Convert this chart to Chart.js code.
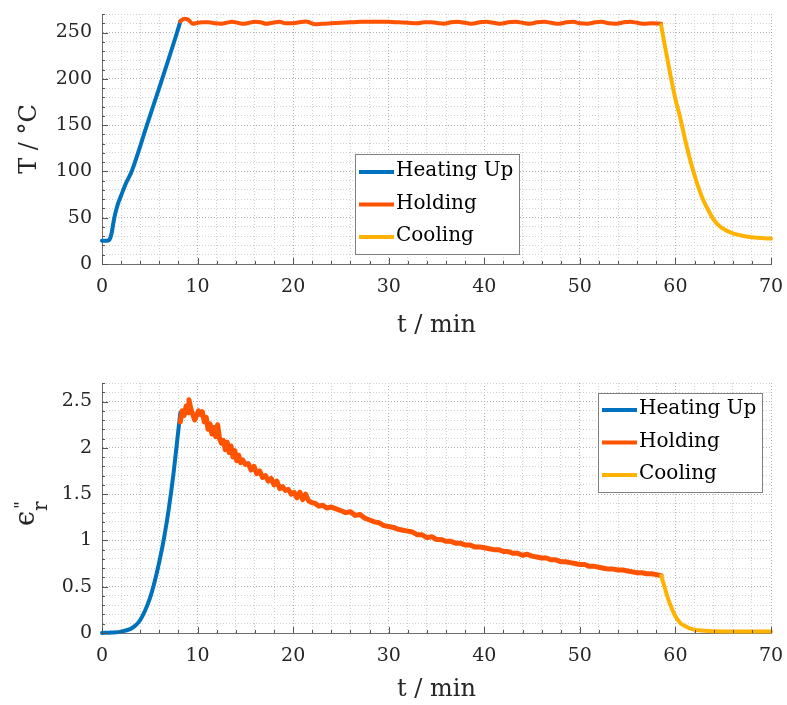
<!DOCTYPE html>
<html>
<head>
<meta charset="utf-8">
<script src="https://cdn.jsdelivr.net/npm/chart.js@4.4.1/dist/chart.umd.min.js"></script>
<style>
  body{margin:0;background:#fff;}
  canvas{display:block;}
</style>
</head>
<body>
<canvas id="chartT" width="787" height="350"></canvas>
<canvas id="chartE" width="787" height="355"></canvas>
<script>
// phases of the run
const phases = ['Heating Up', 'Holding', 'Cooling'];
const phaseColors = ['#0072BD', '#FF5300', '#FFB300'];

// temperature T / °C against time t / min
const heatT_t = [0, 0.5, 0.75, 1.0, 1.2, 1.4, 1.7, 2.0, 2.5, 3.1, 4.7, 6.3, 7.85, 8.2];
const heatT_v = [25, 25, 26, 33, 45, 55, 66, 74, 87, 100, 150, 200, 250, 262];

const holdT_t = [8.2, 8.6, 9.0, 9.5, 10.0, 10.5, 11.2, 11.8, 12.4, 13.0, 13.6, 14.2, 14.8, 15.4, 16.0, 16.6, 17.2, 17.8, 18.6, 19.2,
  19.8, 20.6, 21.3, 21.8, 22.3, 23.0, 24, 25, 26, 27, 28, 29, 30, 31, 32, 33, 33.7, 34.5, 35.2, 35.8,
  36.5, 37.2, 38.0, 38.7, 39.5, 40.2, 41.0, 41.7, 42.5, 43.3, 44.0, 44.8, 45.5, 46.3, 47.0, 47.8, 48.6, 49.3, 50.0, 50.8,
  51.6, 52.3, 53.0, 53.8, 54.6, 55.3, 56.0, 56.8, 57.5, 58.5];
const holdT_v = [262, 265, 264, 259.5, 260.5, 261, 261, 260, 259.5, 260.5, 261.5, 260.5, 259.5, 260.5, 261.5, 261, 259.5, 260.5, 261.5, 260,
  260, 261, 262, 260.5, 259, 259.5, 260, 260.5, 261, 261.5, 261.5, 261.5, 261.5, 261, 260.5, 260, 261, 261, 260, 259.5,
  261, 261.5, 260.5, 259.5, 261, 261.5, 260.5, 259.5, 261, 261.5, 260.5, 259.5, 261, 261.5, 260.5, 259.5, 261, 261.5, 260, 259.5,
  261, 261.5, 260, 259.5, 261, 261.5, 260.5, 259.5, 260, 259.5];

const coolT_t = [58.5, 59, 59.5, 60, 60.5, 61, 61.5, 62, 62.5, 63, 63.5, 64, 64.5, 65, 66, 67, 68, 69, 70];
const coolT_v = [258, 230, 203, 178, 158, 135, 114, 96, 80, 67, 57, 48, 42, 38, 33, 30.5, 29, 28, 27.5];

// loss factor eps_r'' against time t / min
const heatE_t = [0, 1, 2, 3, 3.5, 4, 4.5, 5, 5.5, 6, 6.5, 7, 7.5, 8, 8.2];
const heatE_v = [0, 0.005, 0.015, 0.045, 0.08, 0.14, 0.24, 0.37, 0.55, 0.77, 1.03, 1.35, 1.74, 2.2, 2.38];

const holdE_t = [8.2, 8.4, 8.6, 8.8, 9.0, 9.1, 9.3, 9.5, 9.7, 9.9, 10.1, 10.3, 10.5, 10.7, 10.9, 11.1, 11.3, 11.5, 11.7, 11.9,
  12.1, 12.3, 12.5, 12.7, 12.9, 13.1, 13.3, 13.5, 13.7, 13.9, 14.1, 14.3, 14.5, 14.7, 15.0, 15.3, 15.6, 15.9, 16.2, 16.5,
  16.8, 17.1, 17.4, 17.7, 18.0, 18.3, 18.6, 18.9, 19.2, 19.5, 19.8, 20.1, 20.4, 20.7, 21.0, 21.3, 21.6, 21.9, 22.3, 22.7,
  23.1, 23.5, 24.0, 24.5, 25.0, 25.5, 26.0, 26.5, 27.0, 27.5, 28.0, 28.5, 29.0, 29.5,
  30.0, 30.5, 31.0, 31.5, 32.0, 32.5, 33.0, 33.5, 34.0, 34.5, 35.0, 35.5, 36.0, 36.5, 37.0, 37.5, 38.0, 38.5, 39.0, 39.5,
  40.0, 40.5, 41.0, 41.5, 42.0, 42.5, 43.0, 43.5, 44.0, 44.5, 45.0, 45.5, 46.0, 46.5, 47.0, 47.5, 48.0, 48.5, 49.0, 49.5,
  50.0, 50.5, 51.0, 51.5, 52.0, 52.5, 53.0, 53.5, 54.0, 54.5, 55.0, 55.5, 56.0, 56.5, 57.0, 57.5, 58.0, 58.5];
const holdE_v = [2.28, 2.40, 2.35, 2.45, 2.38, 2.52, 2.42, 2.36, 2.30, 2.35, 2.40, 2.36, 2.39, 2.28, 2.33, 2.20, 2.26, 2.15, 2.22, 2.12,
  2.25, 2.10, 2.05, 2.08, 1.98, 2.06, 1.95, 2.02, 1.90, 1.97, 1.86, 1.92, 1.84, 1.87, 1.82, 1.83, 1.76, 1.80, 1.72, 1.75,
  1.68, 1.70, 1.64, 1.67, 1.60, 1.64, 1.56, 1.58, 1.54, 1.55, 1.50, 1.52, 1.46, 1.52, 1.44, 1.50, 1.43, 1.41, 1.40, 1.37,
  1.38, 1.35, 1.36, 1.34, 1.32, 1.30, 1.31, 1.27, 1.28, 1.24, 1.22, 1.20, 1.19, 1.16,
  1.15, 1.14, 1.12, 1.11, 1.10, 1.09, 1.06, 1.06, 1.03, 1.04, 1.01, 1.01, 0.99, 0.99, 0.97, 0.97, 0.95, 0.95, 0.93, 0.93,
  0.92, 0.91, 0.90, 0.90, 0.88, 0.88, 0.86, 0.86, 0.84, 0.85, 0.83, 0.82, 0.81, 0.81, 0.79, 0.79, 0.77, 0.77, 0.76, 0.75,
  0.74, 0.74, 0.72, 0.72, 0.71, 0.70, 0.69, 0.69, 0.68, 0.68, 0.67, 0.66, 0.65, 0.65, 0.64, 0.64, 0.63, 0.62];

const coolE_t = [58.5, 58.8, 59.2, 59.6, 60, 60.5, 61, 61.5, 62, 63, 64, 66, 70];
const coolE_v = [0.62, 0.52, 0.38, 0.27, 0.18, 0.11, 0.075, 0.05, 0.035, 0.025, 0.02, 0.016, 0.015];

const SERIF = '"DejaVu Serif", "Liberation Serif", serif';
const INK = '#262626';

const pts = (xs, ys) => xs.map((x, i) => ({ x, y: ys[i] }));
const isMajor = (v, step) => Math.abs(v / step - Math.round(v / step)) < 1e-6;

function phaseSets(series){
  return series.map(([xs, ys, smooth, w], i) => ({
    label: phases[i],
    data: pts(xs, ys),
    borderColor: phaseColors[i],
    borderWidth: w || 4,
    pointRadius: 0,
    borderJoinStyle: 'round',
    borderCapStyle: 'round',
    cubicInterpolationMode: smooth ? 'monotone' : 'default',
    tension: 0,
    clip: false,
    order: 3 - i
  }));
}

// inward tick marks like the original axes
const inwardTicks = {
  id: 'inwardTicks',
  afterDraw(chart, args, o){
    const { ctx, chartArea: a, scales: { x, y } } = chart;
    ctx.save();
    ctx.strokeStyle = '#555';
    ctx.lineWidth = 1;
    ctx.beginPath();
    x.ticks.forEach(t => {
      const px = Math.round(x.getPixelForValue(t.value)) + 0.5;
      const len = isMajor(t.value, 10) ? 6 : 3;
      ctx.moveTo(px, a.bottom); ctx.lineTo(px, a.bottom - len);
    });
    y.ticks.forEach(t => {
      const py = Math.round(y.getPixelForValue(t.value)) + 0.5;
      const len = isMajor(t.value, o.yMajor) ? 6 : 3;
      ctx.moveTo(a.left, py); ctx.lineTo(a.left + len, py);
    });
    ctx.stroke();
    ctx.restore();
  }
};

const boxLegend = {
  id: 'boxLegend',
  afterDraw(chart, args, o){
    const ctx = chart.ctx;
    ctx.save();
    ctx.fillStyle = '#fff';
    ctx.fillRect(o.left, o.top, o.width, o.height);
    ctx.strokeStyle = '#808080';
    ctx.lineWidth = 1;
    ctx.strokeRect(o.left + 0.5, o.top + 0.5, o.width, o.height);
    ctx.font = '20px ' + SERIF;
    ctx.textBaseline = 'middle';
    chart.data.datasets.forEach((ds, i) => {
      const yy = o.top + o.firstRow + i * o.rowGap;
      ctx.strokeStyle = ds.borderColor;
      ctx.lineWidth = 4;
      ctx.beginPath(); ctx.moveTo(o.left + 4, yy); ctx.lineTo(o.left + 39, yy); ctx.stroke();
      ctx.fillStyle = '#000';
      ctx.fillText(ds.label, o.left + 41, yy - 1);
    });
    ctx.restore();
  }
};

// eps_r'' label, drawn by hand because of the sub- and superscript
const epsTitle = {
  id: 'epsTitle',
  afterDraw(chart, args, o){
    if (!o.show) return;
    const ctx = chart.ctx;
    ctx.save();
    ctx.fillStyle = INK;
    ctx.translate(34, 176);
    ctx.rotate(-Math.PI / 2);
    ctx.textBaseline = 'alphabetic';
    ctx.font = '27px ' + SERIF;
    ctx.fillText('\u03f5', 0, 0);
    ctx.font = '20px ' + SERIF;
    ctx.fillText('r', 15, 13);
    ctx.font = '17px ' + SERIF;
    ctx.fillText('"', 17, -8);
    ctx.restore();
  }
};

function makeChart(id, sets, y, o){
  return new Chart(document.getElementById(id), {
    type: 'line',
    data: { datasets: sets },
    plugins: [inwardTicks, boxLegend, epsTitle],
    options: {
      responsive: false,
      animation: false,
      layout: { padding: { left: 0, right: 16, top: o.padTop, bottom: 0 } },
      plugins: {
        legend: { display: false },
        tooltip: { enabled: false },
        inwardTicks: { yMajor: y.major },
        boxLegend: o.legend,
        epsTitle: { show: !y.title }
      },
      scales: {
        x: {
          type: 'linear', min: 0, max: 70,
          afterFit: s => { s.height = o.xHeight; s.paddingLeft = 0; s.paddingRight = 0; },
          ticks: {
            stepSize: 2, autoSkip: false, maxRotation: 0, padding: 12, color: INK,
            font: { family: SERIF, size: 19 },
            callback: v => isMajor(v, 10) ? String(v) : ''
          },
          grid: { drawTicks: false, lineWidth: 1, color: c => isMajor(c.tick.value, 10) ? '#b4b4b4' : '#d0d0d0' },
          border: { color: '#6e6e6e', width: 1, dash: [1, 2] },
          title: { display: true, text: 't / min', color: INK, font: { family: SERIF, size: 24 }, padding: { top: 0, bottom: o.xTitlePad } }
        },
        y: {
          type: 'linear', min: 0, max: y.max,
          afterFit: s => { s.width = 102; s.paddingTop = 0; s.paddingBottom = 0; },
          ticks: {
            stepSize: y.minor, autoSkip: false, padding: 10, color: INK,
            font: { family: SERIF, size: 19 },
            callback: v => isMajor(v, y.major) ? String(Math.round(v * 10) / 10) : ''
          },
          grid: { drawTicks: false, lineWidth: 1, color: c => isMajor(c.tick.value, y.major) ? '#b4b4b4' : '#d0d0d0' },
          border: { color: '#6e6e6e', width: 1, dash: [1, 2] },
          title: { display: !!y.title, text: y.title || '', color: INK, font: { family: SERIF, size: 24 }, padding: { top: 15, bottom: 0 } }
        }
      }
    }
  });
}

makeChart('chartT', phaseSets([[heatT_t, heatT_v, true], [holdT_t, holdT_v, true], [coolT_t, coolT_v, true]]),
  { max: 270, minor: 10, major: 50, title: 'T / \u00b0C' },
  { padTop: 14, xHeight: 86, xTitlePad: 10,
    legend: { left: 355, top: 154, width: 164, height: 100, firstRow: 18, rowGap: 32.5 } });

makeChart('chartE', phaseSets([[heatE_t, heatE_v, true], [holdE_t, holdE_v, false, 5], [coolE_t, coolE_v, true]]),
  { max: 2.7, minor: 0.1, major: 0.5, title: '' },
  { padTop: 33, xHeight: 72, xTitlePad: 1,
    legend: { left: 598, top: 43, width: 164, height: 99, firstRow: 17, rowGap: 32.5 } });
</script>
</body>
</html>
